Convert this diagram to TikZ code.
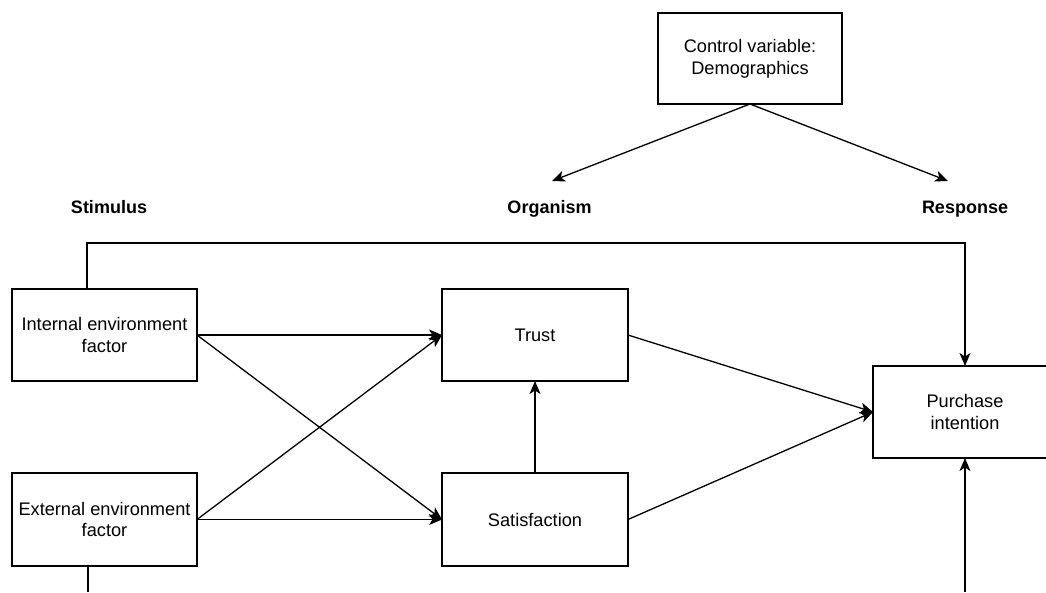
\documentclass[tikz,border=0pt]{standalone}
\usepackage{fontspec}
\setmainfont{Liberation Sans}
\usetikzlibrary{arrows.meta}
\begin{document}
\begin{tikzpicture}[x=1pt,y=-1pt,
  box/.style={draw, line width=1.3pt, inner sep=0pt, outer sep=0pt, align=center,
    font=\fontsize{18.2}{21.8}\selectfont},
  lbl/.style={font=\bfseries\fontsize{18}{21.6}\selectfont, inner sep=0pt, anchor=base},
  conn/.style={line width=1.3pt},
  arr/.style={conn, -{Stealth[length=13pt,width=11pt,inset=3.5pt]}}]
\useasboundingbox (0,0) rectangle (1046,592);
\clip (0,0) rectangle (1046,592);
\fill[white] (0,0) rectangle (1046,592);
% boxes
\node[box, minimum width=184pt, minimum height=91pt] (ctl) at (750,58.5) {Control variable:\\Demographics};
\node[box, minimum width=185pt, minimum height=92pt] (int) at (104.5,335) {Internal environment\\factor};
\node[box, minimum width=185pt, minimum height=93pt] (ext) at (104.5,519.5) {External environment\\factor};
\node[box, minimum width=186pt, minimum height=92pt] (tru) at (535,335) {Trust};
\node[box, minimum width=186pt, minimum height=93pt] (sat) at (535,519.5) {Satisfaction};
\node[box, minimum width=184pt, minimum height=92pt] (pur) at (965,412) {Purchase\\intention};
% labels
\node[lbl] (stim) at (109,213) {Stimulus};
\node[lbl] (org) at (549.5,213) {Organism};
\node[lbl] (resp) at (965,213) {Response};
% free ends
\coordinate (orgTip) at (552,181);
\coordinate (respTip) at (948,181);
\coordinate (topL) at (87,243);
\coordinate (botL) at (88,592);
\coordinate (botR) at (965,592);
% connectors
\draw[arr] (ctl.south) -- (orgTip);
\draw[arr] (ctl.south) -- (respTip);
\draw[arr] ([xshift=75pt]int.north west) -- (topL) -| (pur.north);
\draw[conn] ([xshift=76pt]ext.south west) -- (botL);
\draw[arr] (botR) -- (pur.south);
\draw[arr] (int.east) -- (tru.west);
\draw[arr] (int.east) -- (sat.west);
\draw[arr] (ext.east) -- (tru.west);
\draw[arr] (ext.east) -- (sat.west);
\draw[arr] (sat.north) -- (tru.south);
\draw[arr] (tru.east) -- (pur.west);
\draw[arr] (sat.east) -- (pur.west);
\end{tikzpicture}
\end{document}
